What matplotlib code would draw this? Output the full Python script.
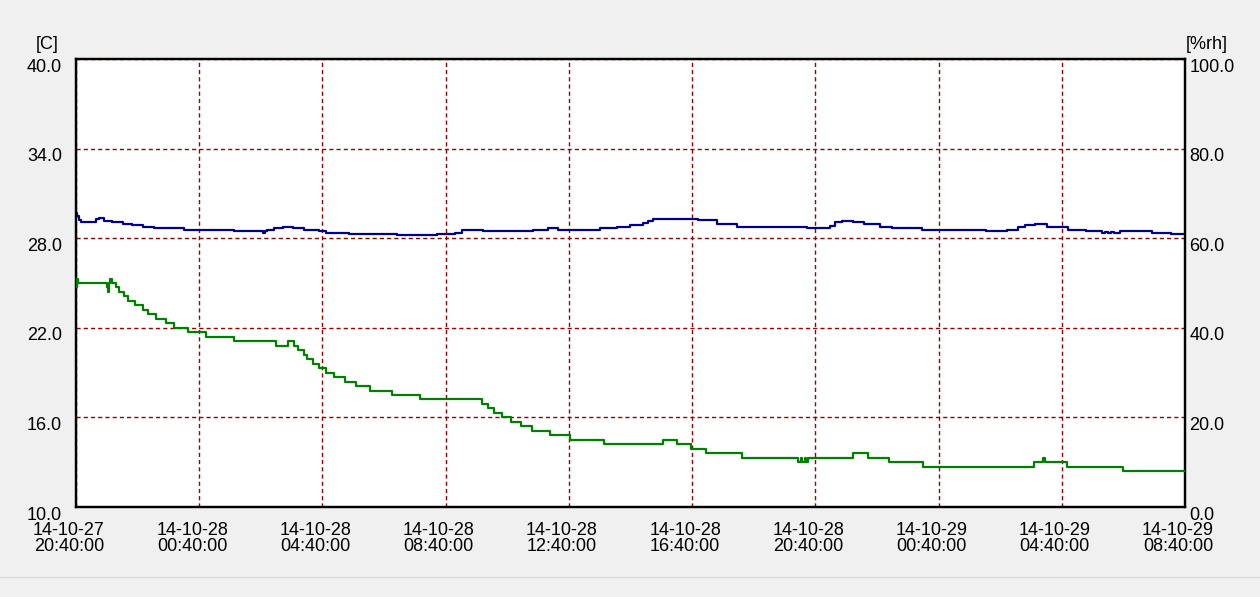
import numpy as np
import pandas as pd
import matplotlib
matplotlib.use('Agg')
import matplotlib.pyplot as plt
import matplotlib.dates as mdates
from matplotlib.transforms import ScaledTranslation
from matplotlib.lines import Line2D

plt.rcParams['font.family'] = ['Liberation Sans', 'DejaVu Sans']
plt.rcParams['lines.scale_dashes'] = False

start = pd.Timestamp('2014-10-27 20:40:00')
end = pd.Timestamp('2014-10-29 08:40:00')

# temperature [C] (blue, left axis): minutes since start, value
temp_min = [0, 2, 5, 9, 39, 45, 55, 70, 91, 110, 130, 152, 211, 308, 364, 368, 372,
            386, 403, 422, 445, 474, 487, 532, 625, 703, 738, 751, 793, 891, 920, 939,
            1021, 1053, 1079, 1105, 1115, 1124, 1176, 1212, 1248, 1287, 1423, 1469,
            1478, 1491, 1514, 1535, 1566, 1589, 1647, 1772, 1813, 1835, 1848, 1868,
            1891, 1933, 1967, 1998, 2004, 2010, 2016, 2022, 2033, 2095, 2133, 2160]
temp_c = [29.7, 29.5, 29.2, 29.1, 29.27, 29.33, 29.17, 29.1, 28.95, 28.9, 28.77, 28.7,
          28.55, 28.48, 28.37, 28.48, 28.55, 28.66, 28.77, 28.68, 28.55, 28.48, 28.37,
          28.3, 28.21, 28.28, 28.37, 28.55, 28.48, 28.55, 28.68, 28.57, 28.66, 28.75,
          28.88, 29.0, 29.15, 29.3, 29.27, 29.2, 28.95, 28.75, 28.68, 28.84, 29.1,
          29.17, 29.1, 28.95, 28.75, 28.7, 28.55, 28.48, 28.57, 28.73, 28.88, 28.95,
          28.77, 28.55, 28.48, 28.33, 28.42, 28.33, 28.42, 28.33, 28.48, 28.35, 28.26,
          28.26]

# humidity [%rh] (green, right axis)
rh_min = [0, 1, 2, 3, 60, 62, 65, 67, 71, 77, 83, 94, 101, 114, 130, 140, 156, 175, 191,
          218, 253, 307, 390, 412, 425, 432, 445, 450, 461, 473, 487, 503, 523, 545,
          573, 616, 670, 790, 803, 814, 830, 847, 866, 889, 923, 962, 1028, 1143, 1170,
          1198, 1228, 1298, 1407, 1412, 1415, 1419, 1422, 1426, 1513, 1543, 1583, 1649,
          1866, 1883, 1887, 1930, 2039, 2160]
rh_val = [51, 49, 51, 50, 49, 48, 50, 51, 50, 49, 48, 47, 46, 45, 44, 43, 42, 41, 40,
          39, 38, 37, 36, 37, 36, 35, 34, 33, 32, 31, 30, 29, 28, 27, 26, 25, 24, 23,
          22, 21, 20, 19, 18, 17, 16, 15, 14, 15, 14, 13, 12, 11, 10, 11, 10, 11, 10,
          11, 12, 11, 10, 9, 10, 11, 10, 9, 8, 8]

temp_ticks = [10, 16, 22, 28, 34, 40]
rh_ticks = [0, 20, 40, 60, 80, 100]

temp_t = start + pd.to_timedelta(temp_min, unit='min')
rh_t = start + pd.to_timedelta(rh_min, unit='min')

fig = plt.figure(figsize=(12.6, 5.97), dpi=100, facecolor='#f0f0f0')
ax = fig.add_axes([76 / 1260, 90 / 597, 1109 / 1260, 448 / 597])
ax.set_facecolor('white')
ax2 = ax.twinx()

ax.step(temp_t, temp_c, where='post', color='#000090', lw=1.6, zorder=3)
ax2.step(rh_t, rh_val, where='post', color='#008000', lw=1.6, zorder=3)

ax.set_xlim(start, end)
ax.set_ylim(10, 40)
ax2.set_ylim(0, 100)

ax.set_yticks(temp_ticks)
ax.set_yticklabels([f'{v:.1f}' for v in temp_ticks])
ax2.set_yticks(rh_ticks)
ax2.set_yticklabels([f'{v:.1f}' for v in rh_ticks])

ax.xaxis.set_major_formatter(mdates.DateFormatter('%y-%m-%d\n%H:%M:%S'))
ax.set_xticks(pd.date_range(start, end, freq='4h'))

grid_kw = dict(color='#990000', lw=1, linestyle=(0, (3, 2.2)))
ax.grid(True, axis='both', **grid_kw)
ax.set_axisbelow(True)

ax.tick_params(axis='y', length=0, pad=10, labelsize=13)
ax.tick_params(axis='x', length=0, pad=11, labelsize=13)
ax2.tick_params(axis='y', length=0, pad=3, labelsize=13)

for lab in ax.get_yticklabels() + ax2.get_yticklabels():
    lab.set_verticalalignment('top')
    lab.set_transform(lab.get_transform() + ScaledTranslation(0, 0.5 / 100, fig.dpi_scale_trans))
for lab in ax.get_xticklabels():
    lab.set_linespacing(0.9)
    lab.set_transform(lab.get_transform() + ScaledTranslation(-7 / 100, 0, fig.dpi_scale_trans))

for a in (ax, ax2):
    for s in a.spines.values():
        s.set_color('black')
        s.set_linewidth(1.6)

fig.text(59 / 1260, 1 - 49 / 597, '[C]', ha='right', va='baseline', fontsize=13)
fig.text(1186 / 1260, 1 - 49 / 597, '[%rh]', ha='left', va='baseline', fontsize=13)

fig.add_artist(Line2D([0, 1], [1 - 577 / 597] * 2, color='#dcdcdc', lw=1,
                      transform=fig.transFigure))

fig.savefig('out.png', dpi=100, facecolor=fig.get_facecolor())
